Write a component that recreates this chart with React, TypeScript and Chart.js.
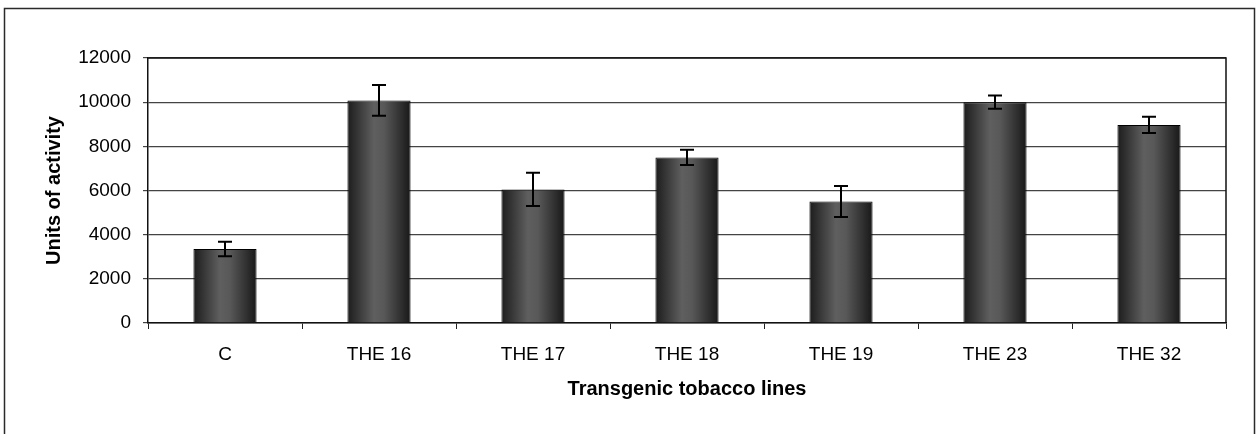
import React, { useEffect, useRef } from "react";
import { Chart, registerables } from "chart.js";

Chart.register(...registerables);

const categories = ["C", "THE 16", "THE 17", "THE 18", "THE 19", "THE 23", "THE 32"];
const activity = [3350, 10080, 6050, 7500, 5500, 10000, 8970];
const errors = [330, 700, 750, 350, 700, 300, 370];
const yTicks = [0, 2000, 4000, 6000, 8000, 10000, 12000];

const FONT = "'Liberation Sans', Arial, sans-serif";

const gradientPlugin = {
  id: "barGradient",
  beforeDatasetsDraw(chart: any) {
    const ctx = chart.ctx;
    const meta = chart.getDatasetMeta(0);
    meta.data.forEach((el: any) => {
      const x0 = el.x - el.width / 2;
      const x1 = el.x + el.width / 2;
      const g = ctx.createLinearGradient(x0, 0, x1, 0);
      g.addColorStop(0, "#1c1c1c");
      g.addColorStop(0.42, "#5f5f5f");
      g.addColorStop(0.58, "#585858");
      g.addColorStop(1, "#181818");
      el.options = Object.assign({}, el.options, { backgroundColor: g });
    });
  },
};

const errorBarPlugin = {
  id: "errorBars",
  afterDatasetsDraw(chart: any) {
    const ctx = chart.ctx;
    const y = chart.scales.y;
    const meta = chart.getDatasetMeta(0);
    ctx.save();
    ctx.strokeStyle = "#000";
    ctx.lineWidth = 2;
    meta.data.forEach((el: any, i: number) => {
      const top = y.getPixelForValue(activity[i] + errors[i]);
      const bot = y.getPixelForValue(activity[i] - errors[i]);
      const cx = el.x;
      ctx.beginPath();
      ctx.moveTo(cx, top);
      ctx.lineTo(cx, bot);
      ctx.moveTo(cx - 7, top);
      ctx.lineTo(cx + 7, top);
      ctx.moveTo(cx - 7, bot);
      ctx.lineTo(cx + 7, bot);
      ctx.stroke();
    });
    ctx.restore();
  },
};

const framePlugin = {
  id: "frame",
  beforeDraw(chart: any) {
    const ctx = chart.ctx;
    ctx.save();
    ctx.fillStyle = "#fff";
    ctx.fillRect(0, 0, chart.width, chart.height);
    ctx.restore();
  },
  afterDraw(chart: any) {
    const ctx = chart.ctx;
    const a = chart.chartArea;
    ctx.save();
    ctx.strokeStyle = "#2a2a2a";
    ctx.lineWidth = 1.5;
    ctx.strokeRect(4.5, 8.5, 1250, 440);
    ctx.strokeStyle = "#111";
    ctx.lineWidth = 1.5;
    ctx.beginPath();
    ctx.moveTo(a.left, a.top);
    ctx.lineTo(a.right, a.top);
    ctx.lineTo(a.right, a.bottom);
    ctx.stroke();
    ctx.restore();
  },
};

export default function App() {
  const ref = useRef<HTMLCanvasElement | null>(null);

  useEffect(() => {
    if (!ref.current) return;
    const chart = new Chart(ref.current, {
      type: "bar",
      data: {
        labels: categories,
        datasets: [
          {
            data: activity,
            backgroundColor: "#444",
            borderColor: "#000",
            borderWidth: 1,
            barPercentage: 0.41,
            categoryPercentage: 1,
          },
        ],
      },
      options: {
        responsive: false,
        animation: false,
        devicePixelRatio: 1,
        layout: { padding: { left: 0, top: 58, right: 30, bottom: 0 } },
        plugins: {
          legend: { display: false },
          tooltip: { enabled: false },
        },
        scales: {
          x: {
            offset: true,
            grid: {
              display: true,
              drawOnChartArea: false,
              drawTicks: true,
              tickLength: 6,
              color: "#222",
              offset: true,
            },
            border: { display: true, color: "#111", width: 1.5 },
            ticks: {
              color: "#000",
              font: { family: FONT, size: 19 },
              padding: 14,
              maxRotation: 0,
            },
            title: {
              display: true,
              text: "Transgenic tobacco lines",
              color: "#000",
              font: { family: FONT, size: 20, weight: "bold" },
              padding: { top: 0, bottom: 33 },
            },
            afterFit(s: any) {
              s.height = 111;
            },
          },
          y: {
            min: 0,
            max: 12000,
            afterBuildTicks(s: any) {
              s.ticks = yTicks.map((v) => ({ value: v }));
            },
            grid: {
              color: "#444",
              lineWidth: 1.2,
              tickLength: 5,
              drawTicks: true,
            },
            border: { display: true, color: "#111", width: 1.5 },
            ticks: {
              color: "#000",
              font: { family: FONT, size: 19 },
              padding: 12,
              callback: (v: any) => String(v),
            },
            title: {
              display: true,
              text: "Units of activity",
              color: "#000",
              font: { family: FONT, size: 20, weight: "bold" },
              padding: { top: 42, bottom: 0 },
            },
            afterFit(s: any) {
              s.width = 148;
            },
          },
        },
      },
      plugins: [framePlugin, gradientPlugin, errorBarPlugin],
    } as any);
    return () => chart.destroy();
  }, []);

  return (
    <div style={{ position: "fixed", left: 0, top: 0, width: 1256, height: 434, background: "#fff" }}>
      <canvas ref={ref} width={1256} height={434} style={{ width: 1256, height: 434, display: "block" }} />
    </div>
  );
}
